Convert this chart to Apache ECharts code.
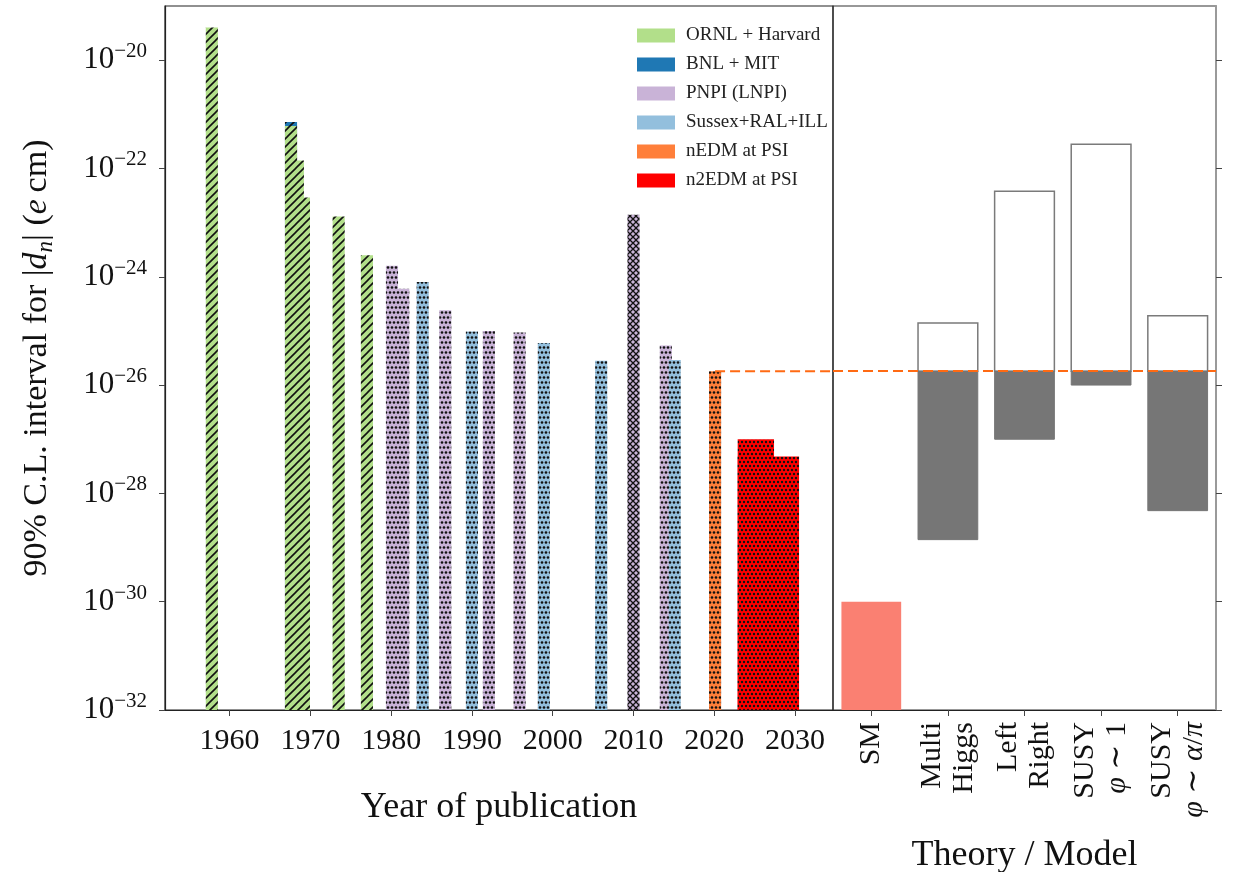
<!DOCTYPE html>
<html>
<head>
<meta charset="utf-8">
<script src="https://cdn.jsdelivr.net/npm/echarts@6/dist/echarts.min.js"></script>
<style>
  html, body { margin: 0; padding: 0; background: #fff; }
  #chart { width: 1235px; height: 872px; }
</style>
</head>
<body>
<div id="chart"></div>
<script>
// ---- Upper limits (90% C.L.) on |d_n| in e cm, as [year, limit] ----
const ornlHarvard = [[1957.8, 4e-20], [1967.6, 6.1e-22], [1968.45, 1.4e-22], [1969.2, 2.9e-23], [1973.5, 1.3e-23], [1977.0, 2.5e-24]];
const bnlMit = [[1967.6, 7.2e-22]];
const pnpi = [[1980.1, 1.6e-24], [1981.5, 6e-25], [1986.7, 2.4e-25], [1992.1, 1e-25], [1995.9, 9.4e-26], [2014.0, 5.4e-26]];
const pnpiCrossed = [[2010.0, 1.4e-23]];
const sussex = [[1983.9, 8e-25], [1990.0, 9.8e-26], [1998.9, 6e-26], [2006.0, 2.8e-26], [2015.1, 2.9e-26]];
const nedmPsi = [[2020.1, 1.8e-26]];
// projected n2EDM sensitivity as [fromYear, toYear, limit]
const n2edmPsi = [[2022.9, 2027.4, 1e-27], [2022.9, 2030.5, 4.8e-28]];

// ---- Theory predictions ----
const models = ['SM', 'Multi\nHiggs', 'Left\nRight', 'SUSY\nφ \u223C 1', 'SUSY\nφ \u223C α/π'];
const smPrediction = 1e-30;
const modelLow = [null, 1.4e-29, 1e-27, 1e-26, 4.8e-29];
const modelHigh = [null, 1.4e-25, 3.8e-23, 2.8e-22, 1.9e-25];

// ---- Axis ticks ----
const yearTicks = [1960, 1970, 1980, 1990, 2000, 2010, 2020, 2030];
const exponentTicks = [-32, -30, -28, -26, -24, -22, -20];

const currentLimit = nedmPsi[0][1];
const LOG_MIN = -32, LOG_MAX = -19;
const YEAR_MIN = 1952, YEAR_MAX = 2034.7;
const BAR_W = 1.5;            // bar width in years
const THEORY_BAR_FRAC = 0.78;
const SERIF = '"Liberation Serif", "DejaVu Serif", serif';
const lg = Math.log10;

// ---- Fill patterns ----
function tile(w, h, bg, draw) {
  const c = document.createElement('canvas');
  c.width = w; c.height = h;
  const ctx = c.getContext('2d');
  ctx.fillStyle = bg; ctx.fillRect(0, 0, w, h);
  ctx.fillStyle = '#111'; ctx.strokeStyle = '#111';
  draw(ctx, w, h);
  return { image: c, repeat: 'repeat' };
}
function hatch(bg) {
  return tile(8, 8, bg, (ctx) => {
    ctx.lineWidth = 1.6;
    ctx.beginPath();
    ctx.moveTo(-1, 9); ctx.lineTo(9, -1);
    ctx.moveTo(-1, 1); ctx.lineTo(1, -1);
    ctx.moveTo(7, 9); ctx.lineTo(9, 7);
    ctx.stroke();
  });
}
function crossHatch(bg) {
  return tile(6, 6, bg, (ctx) => {
    ctx.lineWidth = 1.3;
    ctx.beginPath();
    ctx.moveTo(0, 0); ctx.lineTo(6, 6);
    ctx.moveTo(0, 6); ctx.lineTo(6, 0);
    ctx.stroke();
  });
}
function dots(bg, w, h, r) {
  return tile(w, h, bg, (ctx) => {
    const pts = [[w / 4, h / 4], [3 * w / 4, h / 4], [0, 3 * h / 4], [w / 2, 3 * h / 4], [w, 3 * h / 4]];
    pts.forEach(([x, y]) => { ctx.beginPath(); ctx.arc(x, y, r, 0, Math.PI * 2); ctx.fill(); });
  });
}

const C = {
  ornl: '#b2df8a', bnl: '#1f78b4', pnpi: '#c9b3d7', sussex: '#93bfdd',
  nedm: '#ff7f3a', n2edm: '#ff0000', sm: '#fa8072', band: '#767676', dash: '#ff6a13'
};

function yearBars(name, color, fill, rows) {
  const data = rows.map(r => r.length === 3
    ? [r[0], r[1], lg(r[2])]
    : [r[0] - BAR_W / 2, r[0] + BAR_W / 2, lg(r[1])]);
  return {
    type: 'custom', name, xAxisIndex: 0, yAxisIndex: 0,
    itemStyle: { color }, silent: true, data,
    encode: { x: [0, 1], y: 2 },
    renderItem(params, api) {
      const p0 = api.coord([api.value(0), api.value(2)]);
      const p1 = api.coord([api.value(1), LOG_MIN]);
      return {
        type: 'rect',
        shape: { x: p0[0], y: p0[1], width: p1[0] - p0[0], height: p1[1] - p0[1] },
        style: { fill }
      };
    }
  };
}

const chart = echarts.init(document.getElementById('chart'), null, { renderer: 'canvas' });

const yTickLabel = {
  customValues: exponentTicks,
  margin: 18,
  formatter: v => '{b|10}{s|\u2212' + Math.abs(v) + '}',
  rich: {
    b: { fontFamily: SERIF, fontSize: 31, lineHeight: 38, color: '#111', verticalAlign: 'middle' },
    s: { fontFamily: SERIF, fontSize: 21, lineHeight: 19, color: '#111', verticalAlign: 'top' }
  }
};

chart.setOption({
  animation: false,
  grid: [
    { left: 165, top: 6, width: 668, height: 704, show: true, borderColor: '#222', borderWidth: 1.2, containLabel: false, outerBoundsMode: 'none' },
    { left: 833, top: 6, width: 383, height: 704, show: true, borderColor: '#333', borderWidth: 1.2, containLabel: false, outerBoundsMode: 'none' }
  ],
  legend: {
    orient: 'vertical', left: 632, top: 21,
    icon: 'rect', itemWidth: 38, itemHeight: 14, itemGap: 10,
    selectedMode: false,
    data: ['ORNL + Harvard', 'BNL + MIT', 'PNPI (LNPI)', 'Sussex+RAL+ILL', 'nEDM at PSI', 'n2EDM at PSI'],
    textStyle: { fontFamily: SERIF, fontSize: 19, color: '#222', padding: [0, 0, 0, 6] }
  },
  xAxis: [
    {
      type: 'value', gridIndex: 0, min: YEAR_MIN, max: YEAR_MAX,
      name: 'Year of publication', nameLocation: 'middle', nameGap: 80,
      nameTextStyle: { fontFamily: SERIF, fontSize: 36, color: '#111' },
      axisLine: { show: true, lineStyle: { color: '#222', width: 1.2 } },
      axisTick: { show: true, customValues: yearTicks, length: 6, lineStyle: { color: '#444' } },
      axisLabel: { customValues: yearTicks, formatter: v => String(v), fontFamily: SERIF, fontSize: 30, color: '#111', margin: 16 },
      splitLine: { show: false }
    },
    {
      type: 'category', gridIndex: 1, data: models,
      name: 'Theory / Model', nameLocation: 'middle', nameGap: 128,
      nameTextStyle: { fontFamily: SERIF, fontSize: 36, color: '#111' },
      axisLine: { show: true, lineStyle: { color: '#222', width: 1.2 } },
      axisTick: { show: true, alignWithLabel: true, length: 6, lineStyle: { color: '#444' } },
      axisLabel: {
        rotate: 90, interval: 0, margin: 12, fontFamily: SERIF, fontSize: 30, lineHeight: 32, color: '#111',
        formatter: v => v.replace(/([φαπ])/g, '{i|$1}'),
        rich: { i: { fontFamily: SERIF, fontSize: 30, lineHeight: 32, fontStyle: 'italic', color: '#111' } }
      },
      splitLine: { show: false }
    }
  ],
  yAxis: [
    {
      type: 'value', gridIndex: 0, min: LOG_MIN, max: LOG_MAX, position: 'left',
      name: '{t|90% C.L. interval for |}{i|d}{sub|n}{t|| (}{i|e}{t|\u2009cm)}',
      nameLocation: 'middle', nameRotate: 90, nameGap: 108,
      nameTextStyle: {
        rich: {
          t: { fontFamily: SERIF, fontSize: 34, lineHeight: 40, color: '#111' },
          i: { fontFamily: SERIF, fontSize: 34, lineHeight: 40, fontStyle: 'italic', color: '#111' },
          sub: { fontFamily: SERIF, fontSize: 23, lineHeight: 22, fontStyle: 'italic', color: '#111', verticalAlign: 'bottom' }
        }
      },
      axisLine: { show: true, lineStyle: { color: '#222', width: 1.2 } },
      axisTick: { show: true, customValues: exponentTicks, length: 6, lineStyle: { color: '#444' } },
      axisLabel: yTickLabel,
      splitLine: { show: false }
    },
    {
      type: 'value', gridIndex: 1, min: LOG_MIN, max: LOG_MAX, position: 'right',
      axisLine: { show: true, lineStyle: { color: '#9a9a9a', width: 2 } },
      axisTick: { show: true, customValues: exponentTicks, length: 6, lineStyle: { color: '#444' } },
      axisLabel: { show: false },
      splitLine: { show: false }
    }
  ],
  series: [
    yearBars('BNL + MIT', C.bnl, hatch(C.bnl), bnlMit),
    yearBars('ORNL + Harvard', C.ornl, hatch(C.ornl), ornlHarvard),
    yearBars('PNPI (LNPI)', C.pnpi, dots(C.pnpi, 8, 10, 1.3), pnpi),
    yearBars('PNPI (LNPI)', C.pnpi, crossHatch(C.pnpi), pnpiCrossed),
    yearBars('Sussex+RAL+ILL', C.sussex, dots(C.sussex, 8, 10, 1.3), sussex),
    yearBars('nEDM at PSI', C.nedm, dots(C.nedm, 8, 10, 1.3), nedmPsi),
    yearBars('n2EDM at PSI', C.n2edm, dots(C.n2edm, 8, 8, 1.2), n2edmPsi),
    {
      // present limit, carried forward to the right
      type: 'line', xAxisIndex: 0, yAxisIndex: 0, z: 10, silent: true,
      symbol: 'none',
      data: [[nedmPsi[0][0], lg(currentLimit)], [YEAR_MAX, lg(currentLimit)]],
      lineStyle: { color: C.dash, width: 2.2, type: [10, 5] }
    },
    {
      type: 'custom', name: 'SM prediction', xAxisIndex: 1, yAxisIndex: 1, silent: true,
      data: [[0, lg(smPrediction)]],
      renderItem(params, api) {
        const w = api.size([1, 0])[0] * THEORY_BAR_FRAC;
        const top = api.coord([api.value(0), api.value(1)]);
        const bot = api.coord([api.value(0), LOG_MIN]);
        return { type: 'rect', shape: { x: top[0] - w / 2, y: top[1], width: w, height: bot[1] - top[1] }, style: { fill: C.sm } };
      }
    },
    {
      type: 'custom', name: 'BSM range', xAxisIndex: 1, yAxisIndex: 1, silent: true,
      data: models.map((m, i) => [i, modelLow[i] ? lg(modelLow[i]) : null, modelHigh[i] ? lg(modelHigh[i]) : null])
        .filter(r => r[1] !== null),
      renderItem(params, api) {
        const i = api.value(0);
        const w = api.size([1, 0])[0] * THEORY_BAR_FRAC;
        const lo = api.coord([i, api.value(1)]);
        const lim = api.coord([i, lg(currentLimit)]);
        const hi = api.coord([i, api.value(2)]);
        const x = lo[0] - w / 2;
        return {
          type: 'group', children: [
            { type: 'rect', shape: { x, y: hi[1], width: w, height: lim[1] - hi[1] }, style: { fill: '#fff', stroke: '#7a7a7a', lineWidth: 1.5 } },
            { type: 'rect', shape: { x, y: lim[1], width: w, height: lo[1] - lim[1] }, style: { fill: C.band, stroke: C.band, lineWidth: 1 } }
          ]
        };
      }
    },
    {
      type: 'line', xAxisIndex: 1, yAxisIndex: 1, z: 10, silent: true, data: [],
      markLine: {
        silent: true, symbol: ['none', 'none'], label: { show: false },
        lineStyle: { color: C.dash, width: 2.2, type: [10, 5] },
        data: [{ yAxis: lg(currentLimit) }]
      }
    }
  ]
});
</script>
</body>
</html>
